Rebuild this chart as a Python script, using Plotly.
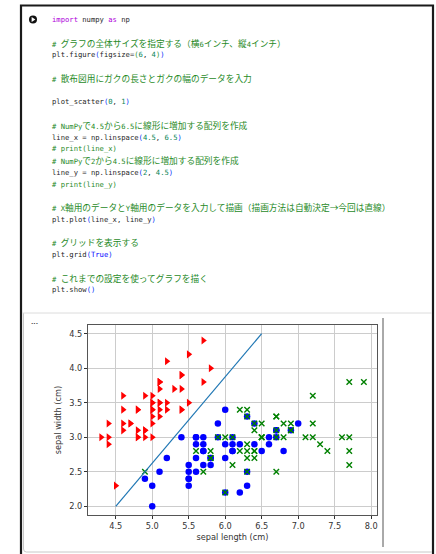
import plotly.graph_objects as go

# --- iris sepal measurements, by species (cm) ---
setosa_length = [5.1, 4.9, 4.7, 4.6, 5.0, 5.4, 4.6, 5.0, 4.4, 4.9, 5.4, 4.8, 4.8, 4.3, 5.8, 5.7, 5.4,
                 5.1, 5.7, 5.1, 5.4, 5.1, 4.6, 5.1, 4.8, 5.0, 5.0, 5.2, 5.2, 4.7, 4.8, 5.4, 5.2, 5.5,
                 4.9, 5.0, 5.5, 4.9, 4.4, 5.1, 5.0, 4.5, 4.4, 5.0, 5.1, 4.8, 5.1, 4.6, 5.3, 5.0]
setosa_width = [3.5, 3.0, 3.2, 3.1, 3.6, 3.9, 3.4, 3.4, 2.9, 3.1, 3.7, 3.4, 3.0, 3.0, 4.0, 4.4, 3.9,
                3.5, 3.8, 3.8, 3.4, 3.7, 3.6, 3.3, 3.4, 3.0, 3.4, 3.5, 3.4, 3.2, 3.1, 3.4, 4.1, 4.2,
                3.1, 3.2, 3.5, 3.6, 3.0, 3.4, 3.5, 2.3, 3.2, 3.5, 3.8, 3.0, 3.8, 3.2, 3.7, 3.3]

versicolor_length = [7.0, 6.4, 6.9, 5.5, 6.5, 5.7, 6.3, 4.9, 6.6, 5.2, 5.0, 5.9, 6.0, 6.1, 5.6, 6.7,
                     5.6, 5.8, 6.2, 5.6, 5.9, 6.1, 6.3, 6.1, 6.4, 6.6, 6.8, 6.7, 6.0, 5.7, 5.5, 5.5,
                     5.8, 6.0, 5.4, 6.0, 6.7, 6.3, 5.6, 5.5, 5.5, 6.1, 5.8, 5.0, 5.6, 5.7, 5.7, 6.2,
                     5.1, 5.7]
versicolor_width = [3.2, 3.2, 3.1, 2.3, 2.8, 2.8, 3.3, 2.4, 2.9, 2.7, 2.0, 3.0, 2.2, 2.9, 2.9, 3.1,
                    3.0, 2.7, 2.2, 2.5, 3.2, 2.8, 2.5, 2.8, 2.9, 3.0, 2.8, 3.0, 2.9, 2.6, 2.4, 2.4,
                    2.7, 2.7, 3.0, 3.4, 3.1, 2.3, 3.0, 2.5, 2.6, 3.0, 2.6, 2.3, 2.7, 3.0, 2.9, 2.9,
                    2.5, 2.8]

virginica_length = [6.3, 5.8, 7.1, 6.3, 6.5, 7.6, 4.9, 7.3, 6.7, 7.2, 6.5, 6.4, 6.8, 5.7, 5.8, 6.4,
                    6.5, 7.7, 7.7, 6.0, 6.9, 5.6, 7.7, 6.3, 6.7, 7.2, 6.2, 6.1, 6.4, 7.2, 7.4, 7.9,
                    6.4, 6.3, 6.1, 7.7, 6.3, 6.4, 6.0, 6.9, 6.7, 6.9, 5.8, 6.8, 6.7, 6.7, 6.3, 6.5,
                    6.2, 5.9]
virginica_width = [3.3, 2.7, 3.0, 2.9, 3.0, 3.0, 2.5, 2.9, 2.5, 3.6, 3.2, 2.7, 3.0, 2.5, 2.8, 3.2,
                   3.0, 3.8, 2.6, 2.2, 3.2, 2.8, 2.8, 2.7, 3.3, 3.2, 2.8, 3.0, 2.8, 3.0, 2.8, 3.8,
                   2.8, 2.8, 2.6, 3.0, 3.4, 3.1, 3.0, 3.1, 3.1, 3.1, 2.7, 3.2, 3.3, 3.0, 2.5, 3.0,
                   3.4, 3.0]

# straight guide line: linspace(4.5, 6.5) against linspace(2, 4.5)
line_x = [4.5, 6.5]
line_y = [2.0, 4.5]

x_ticks = [4.5, 5.0, 5.5, 6.0, 6.5, 7.0, 7.5, 8.0]
y_ticks = [2.0, 2.5, 3.0, 3.5, 4.0, 4.5]

# --- notebook cell source, as (row, [(text, colour kind), ...]) ---
code_lines = [
    (0, [("import", "kw"), (" numpy ", "id"), ("as", "kw"), (" np", "id")]),
    (2, [("# グラフの全体サイズを指定する（横6インチ、縦4インチ）", "cm")]),
    (3, [("plt.figure", "id"), ("(", "b1"), ("figsize=", "id"), ("(", "b2"), ("6", "num"),
         (", ", "id"), ("4", "num"), (")", "b2"), (")", "b1")]),
    (5, [("# 散布図用にガクの長さとガクの幅のデータを入力", "cm")]),
    (7, [("plot_scatter", "id"), ("(", "b1"), ("0", "num"), (", ", "id"), ("1", "num"), (")", "b1")]),
    (9, [("# NumPyで4.5から6.5に線形に増加する配列を作成", "cm")]),
    (10, [("line_x = np.linspace", "id"), ("(", "b1"), ("4.5", "num"), (", ", "id"),
          ("6.5", "num"), (")", "b1")]),
    (11, [("# print(line_x)", "cm")]),
    (12, [("# NumPyで2から4.5に線形に増加する配列を作成", "cm")]),
    (13, [("line_y = np.linspace", "id"), ("(", "b1"), ("2", "num"), (", ", "id"),
          ("4.5", "num"), (")", "b1")]),
    (14, [("# print(line_y)", "cm")]),
    (16, [("# X軸用のデータとY軸用のデータを入力して描画（描画方法は自動決定→今回は直線）", "cm")]),
    (17, [("plt.plot", "id"), ("(", "b1"), ("line_x, line_y", "id"), (")", "b1")]),
    (19, [("# グリッドを表示する", "cm")]),
    (20, [("plt.grid", "id"), ("(", "b1"), ("True", "const"), (")", "b1")]),
    (22, [("# これまでの設定を使ってグラフを描く", "cm")]),
    (23, [("plt.show", "id"), ("()", "b1")]),
]

SYNTAX = {"kw": "#af00db", "id": "#262626", "cm": "#1f8a1f", "num": "#098658",
          "b1": "#0431fa", "b2": "#319331", "const": "#0000ff"}

W, H = 436, 554
MONO = "DejaVu Sans Mono"
CJK = "Noto Sans CJK JP"


def px(x):
    return x / W


def py(y):
    return 1 - y / H


def runs(text):
    """Split text into runs of ASCII / non-ASCII characters."""
    out, cur, cur_ascii = [], "", None
    for ch in text:
        a = ord(ch) < 128
        if cur and a != cur_ascii:
            out.append((cur, cur_ascii))
            cur = ""
        cur += ch
        cur_ascii = a
    if cur:
        out.append((cur, cur_ascii))
    return out


def rich(segments):
    parts = []
    for text, kind in segments:
        colour = SYNTAX[kind]
        for chunk, is_ascii in runs(text):
            chunk = chunk.replace("&", "&amp;").replace("<", "&lt;").replace(">", "&gt;")
            if is_ascii:
                parts.append(f'<span style="color:{colour}">{chunk}</span>')
            else:
                parts.append(f'<span style="color:{colour};font-family:\'{CJK}\';'
                             f'font-size:8.7px">{chunk}</span>')
    return "".join(parts)


fig = go.Figure()

fig.add_trace(go.Scatter(
    x=setosa_length, y=setosa_width, mode="markers",
    marker=dict(symbol="triangle-right", size=7, color="#ff0000"),
))
fig.add_trace(go.Scatter(
    x=versicolor_length, y=versicolor_width, mode="markers",
    marker=dict(symbol="circle", size=6.5, color="#0000ff"),
))
fig.add_trace(go.Scatter(
    x=virginica_length, y=virginica_width, mode="markers",
    marker=dict(symbol="x-thin", size=5.5, color="#008000",
                line=dict(color="#008000", width=1.4)),
))
fig.add_trace(go.Scatter(
    x=line_x, y=line_y, mode="lines",
    line=dict(color="#1f77b4", width=1.2),
))

# code text
annotations = []
LINE0, PITCH = 19.5, 11.76
for row, segs in code_lines:
    annotations.append(dict(
        text=rich(segs), xref="paper", yref="paper",
        x=px(50), y=py(LINE0 + row * PITCH), xanchor="left", yanchor="middle",
        showarrow=False, font=dict(family=MONO, size=7.2, color="#262626"),
    ))
# output-area ellipsis
annotations.append(dict(
    text="•••", xref="paper", yref="paper", x=px(29), y=py(323),
    xanchor="left", yanchor="middle", showarrow=False,
    font=dict(family="DejaVu Sans", size=4, color="#444"),
))

shapes = [
    # cell outline (heavy)
    dict(type="path", xref="paper", yref="paper",
         path=f"M {px(21)},{py(556)} L {px(21)},{py(5.5)} L {px(433)},{py(5.5)} L {px(433)},{py(556)}",
         line=dict(color="#1a1a1a", width=2.2)),
    # output area outline (light)
    dict(type="path", xref="paper", yref="paper",
         path=(f"M {px(23.5)},{py(313)} L {px(23.5)},{py(549)} "
               f"Q {px(23.5)},{py(552)} {px(26.5)},{py(552)} L {px(432)},{py(552)}"),
         line=dict(color="#c8c8c8", width=1)),
    # divider between source and output
    dict(type="line", xref="paper", yref="paper",
         x0=px(22), x1=px(432), y0=py(313), y1=py(313),
         line=dict(color="#dcdcdc", width=1)),
    # output scroll edge
    dict(type="line", xref="paper", yref="paper",
         x0=px(383), x1=px(383), y0=py(318), y1=py(547),
         line=dict(color="#555555", width=1)),
    # run button
    dict(type="circle", xref="paper", yref="paper",
         x0=px(29), x1=px(37), y0=py(23.5), y1=py(15.5),
         fillcolor="#111111", line=dict(width=0)),
    dict(type="path", xref="paper", yref="paper",
         path=f"M {px(31.6)},{py(17)} L {px(35.4)},{py(19.5)} L {px(31.6)},{py(22)} Z",
         fillcolor="#ffffff", line=dict(width=0)),
]

axis_font = dict(family="DejaVu Sans", size=8.2, color="#333333")

fig.update_layout(
    width=W, height=H,
    margin=dict(l=0, r=0, t=0, b=0),
    paper_bgcolor="#ffffff", plot_bgcolor="#ffffff",
    showlegend=False,
    annotations=annotations,
    shapes=shapes,
    xaxis=dict(
        domain=[px(88), px(377)], range=[4.12, 8.08],
        tickvals=x_ticks, tickformat=".1f",
        showgrid=True, gridcolor="#cccccc", gridwidth=1,
        showline=True, mirror=True, linecolor="#555555", linewidth=1.2,
        ticks="outside", ticklen=3, tickwidth=1, tickcolor="#333333",
        zeroline=False, tickfont=axis_font,
        title=dict(text="sepal length (cm)", font=axis_font, standoff=4),
    ),
    yaxis=dict(
        domain=[1 - 515 / H, 1 - 325 / H], range=[1.875, 4.625],
        tickvals=y_ticks, tickformat=".1f",
        showgrid=True, gridcolor="#cccccc", gridwidth=1,
        showline=True, mirror=True, linecolor="#555555", linewidth=1.2,
        ticks="outside", ticklen=3, tickwidth=1, tickcolor="#333333",
        zeroline=False, tickfont=axis_font,
        title=dict(text="sepal width (cm)", font=axis_font, standoff=6),
    ),
)

fig.write_html("out.html")
